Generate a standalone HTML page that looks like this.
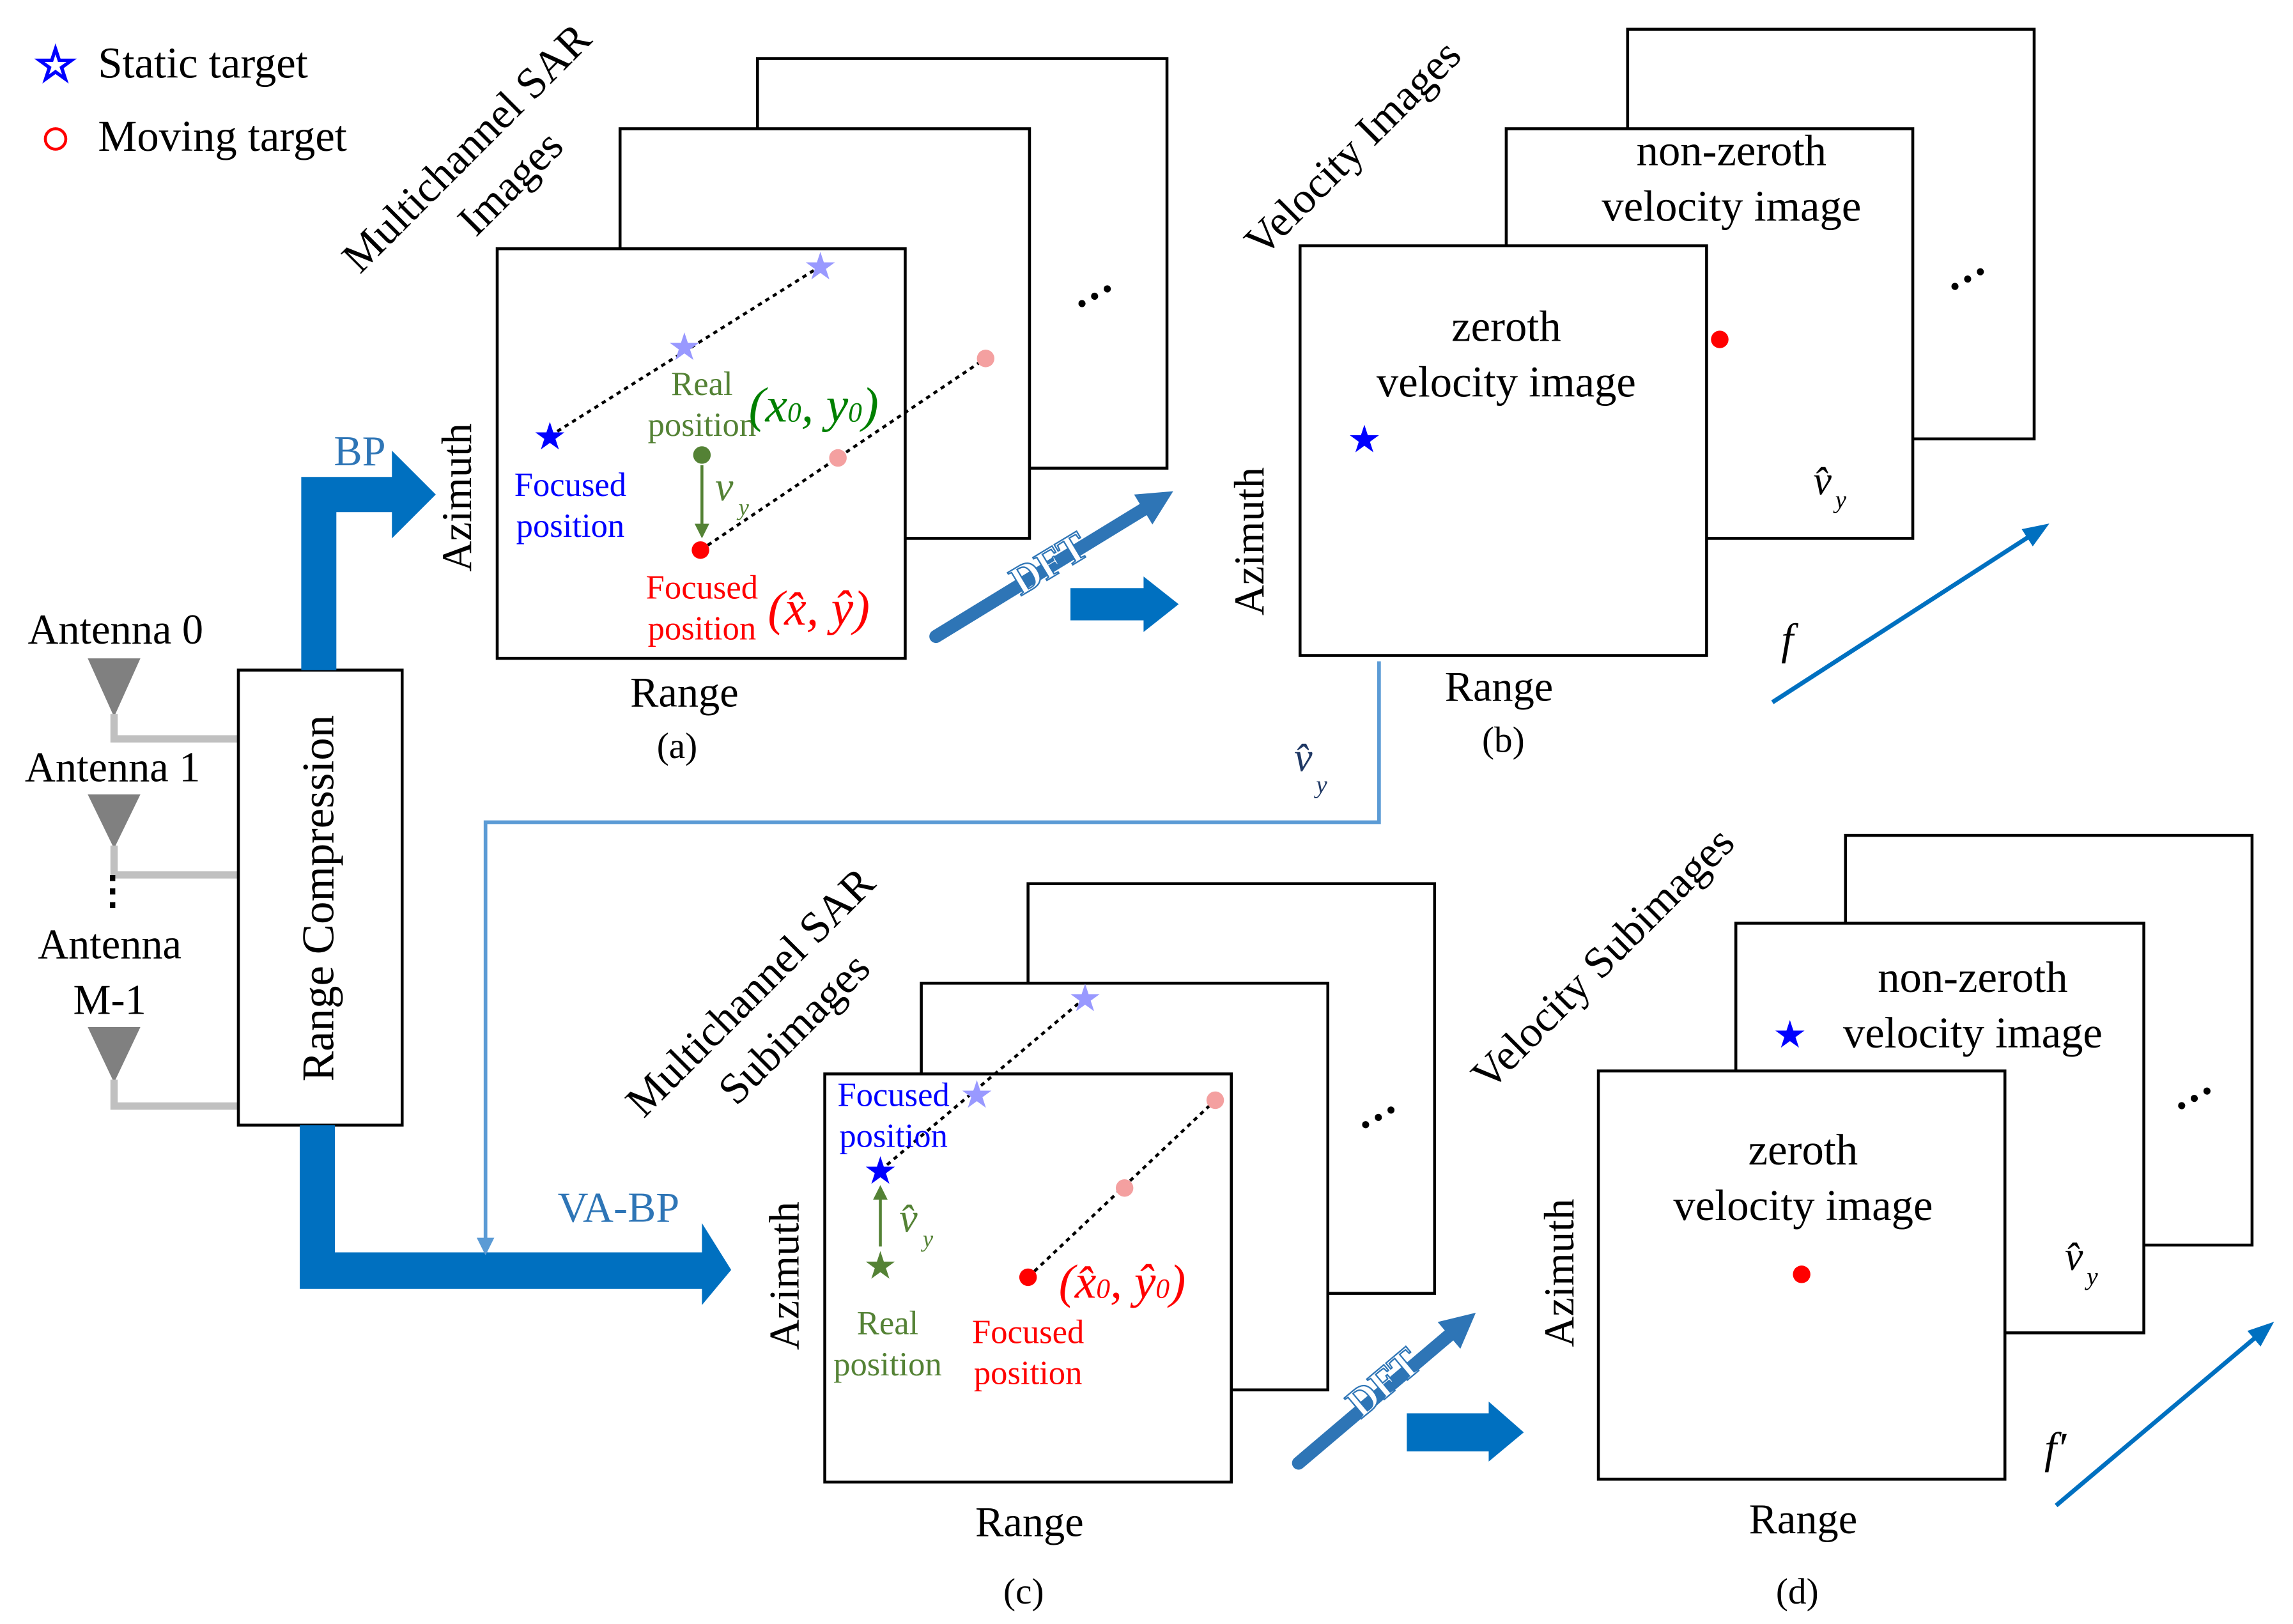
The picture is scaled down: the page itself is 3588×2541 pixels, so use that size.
<!DOCTYPE html>
<html><head><style>html,body{margin:0;padding:0;background:#fff}svg{display:block}</style></head><body>
<svg width="3588" height="2541" viewBox="0 0 1568 1110" preserveAspectRatio="none" xmlns="http://www.w3.org/2000/svg" font-family="Liberation Serif, serif">
<defs>
<marker id="ahl" markerWidth="12" markerHeight="12" refX="10" refY="6" orient="auto" markerUnits="userSpaceOnUse"><path d="M0,0 L12,6 L0,12 z" fill="#5b9bd5"/></marker>
<marker id="ahg" markerWidth="10" markerHeight="10" refX="8" refY="5" orient="auto" markerUnits="userSpaceOnUse"><path d="M0,0 L10,5 L0,10 z" fill="#548235"/></marker>
<marker id="ahd" markerWidth="24" markerHeight="24" refX="12" refY="12" orient="auto" markerUnits="userSpaceOnUse"><path d="M0,0 L24,12 L0,24 z" fill="#2e75b6"/></marker>
<marker id="ahf" markerWidth="18" markerHeight="18" refX="14" refY="9" orient="auto" markerUnits="userSpaceOnUse"><path d="M0,2 L18,9 L0,16 z" fill="#0070c0"/></marker>
</defs>
<!-- legend -->
<text x="38" y="55" font-size="32" fill="none" stroke="#0000ff" stroke-width="1.5" text-anchor="middle">☆</text>
<text x="67" y="53" font-size="30">Static target</text>
<circle cx="38" cy="95" r="7" fill="none" stroke="#ff0000" stroke-width="2"/>
<text x="67" y="103" font-size="30">Moving target</text>

<!-- antennas -->
<g fill="#808080">
<path d="M60,450 L96,450 L78,490 z"/><path d="M60,543 L96,543 L78,580 z"/><path d="M60,702 L96,702 L78,740 z"/>
</g>
<g stroke="#c0c0c0" stroke-width="5" fill="none">
<path d="M78,488 V505 H163"/><path d="M78,578 V598 H163"/><path d="M78,738 V756 H163"/>
</g>
<text x="79" y="440" font-size="29" text-anchor="middle">Antenna 0</text>
<text x="77" y="534" font-size="29" text-anchor="middle">Antenna 1</text>
<text x="77" y="618" font-size="27" text-anchor="middle" font-weight="bold">⋮</text>
<text x="75" y="655" font-size="29" text-anchor="middle">Antenna</text>
<text x="75" y="693" font-size="29" text-anchor="middle">M-1</text>

<rect x="163" y="458" width="112" height="311" fill="#fff" stroke="#000" stroke-width="2"/>
<text transform="translate(228,614) rotate(-90)" font-size="31" text-anchor="middle">Range Compression</text>

<!-- BP arrow -->
<path d="M206,458 V326 H268 V308 L298,338 L268,368 V350 H230 V458 z" fill="#0070c0"/>
<text x="246" y="318" font-size="29" fill="#2e75b6" text-anchor="middle">BP</text>
<!-- VA-BP arrow -->
<path d="M205,769 H229 V856 H480 V836 L500,868 L480,892 V881 H205 z" fill="#0070c0"/>
<text x="423" y="835" font-size="29" fill="#2e75b6" text-anchor="middle">VA-BP</text>
<!-- light blue line -->
<path d="M943,452 V562 H332 V856" fill="none" stroke="#5b9bd5" stroke-width="2.5" marker-end="url(#ahl)"/>
<text x="885" y="527" font-size="28" fill="#1f3864" font-style="italic">v̂</text><text x="900" y="542" font-size="17" fill="#1f3864" font-style="italic">y</text>

<!-- panel a -->
<g fill="#fff" stroke="#000" stroke-width="2">
<rect x="518" y="40" width="280" height="280"/><rect x="424" y="88" width="280" height="280"/><rect x="340" y="170" width="279" height="280"/>
</g>
<text x="750" y="212" font-size="30" font-weight="bold" transform="rotate(-30 750 205)" text-anchor="middle">···</text>
<text transform="translate(326,108) rotate(-45)" font-size="30" text-anchor="middle">Multichannel SAR</text>
<text transform="translate(356,132) rotate(-45)" font-size="30" text-anchor="middle">Images</text>
<text transform="translate(322,340) rotate(-90)" font-size="29" text-anchor="middle">Azimuth</text>
<text x="468" y="483" font-size="29" text-anchor="middle">Range</text>
<text x="463" y="518" font-size="25" text-anchor="middle">(a)</text>
<line x1="376" y1="298" x2="561" y2="182" stroke="#000" stroke-width="2" stroke-dasharray="3,3"/>
<line x1="479" y1="376" x2="674" y2="245" stroke="#000" stroke-width="2" stroke-dasharray="3,3"/>
<text x="376" y="307" font-size="26" fill="#0000ff" text-anchor="middle">★</text>
<text x="468" y="246" font-size="26" fill="#9999ff" text-anchor="middle">★</text>
<text x="561" y="191" font-size="26" fill="#9999ff" text-anchor="middle">★</text>
<circle cx="479" cy="376" r="6" fill="#ff0000"/><circle cx="573" cy="313" r="6" fill="#f4a0a0"/><circle cx="674" cy="245" r="6" fill="#f4a0a0"/>
<circle cx="480" cy="311" r="6" fill="#548235"/>
<line x1="480" y1="318" x2="480" y2="366" stroke="#548235" stroke-width="2" marker-end="url(#ahg)"/>
<text x="489" y="342" font-size="28" fill="#548235" font-style="italic">v</text><text x="505" y="352" font-size="16" fill="#548235" font-style="italic">y</text>
<text x="480" y="270" font-size="23" fill="#548235" text-anchor="middle">Real</text>
<text x="480" y="298" font-size="23" fill="#548235" text-anchor="middle">position</text>
<text x="512" y="288" font-size="34" fill="#008000" font-style="italic">(x<tspan font-size="19">0</tspan>, y<tspan font-size="19">0</tspan>)</text>
<text x="390" y="339" font-size="23" fill="#0000ff" text-anchor="middle">Focused</text>
<text x="390" y="367" font-size="23" fill="#0000ff" text-anchor="middle">position</text>
<text x="480" y="409" font-size="23" fill="#ff0000" text-anchor="middle">Focused</text>
<text x="480" y="437" font-size="23" fill="#ff0000" text-anchor="middle">position</text>
<text x="525" y="427" font-size="34" fill="#ff0000" font-style="italic">(x̂, ŷ)</text>

<!-- DFT a->b -->
<line x1="640" y1="435" x2="792" y2="342" stroke="#2e75b6" stroke-width="9" stroke-linecap="round" marker-end="url(#ahd)"/>
<text transform="translate(722,393) rotate(-31)" font-size="28" fill="#fff" stroke="#2e75b6" stroke-width="1" text-anchor="middle" font-weight="bold">DFT</text>
<path d="M732,402 H782 V394 L806,413 L782,432 V424 H732 z" fill="#0070c0"/>

<!-- panel b -->
<g fill="#fff" stroke="#000" stroke-width="2">
<rect x="1113" y="20" width="278" height="280"/><rect x="1030" y="88" width="278" height="280"/><rect x="889" y="168" width="278" height="280"/>
</g>
<text x="1348" y="200" font-size="30" font-weight="bold" transform="rotate(-30 1348 195)" text-anchor="middle">···</text>
<text transform="translate(932,108) rotate(-45)" font-size="30" text-anchor="middle">Velocity Images</text>
<text x="1184" y="113" font-size="30" text-anchor="middle">non-zeroth</text>
<text x="1184" y="151" font-size="30" text-anchor="middle">velocity image</text>
<text x="1030" y="233" font-size="30" text-anchor="middle">zeroth</text>
<text x="1030" y="271" font-size="30" text-anchor="middle">velocity image</text>
<text x="933" y="309" font-size="26" fill="#0000ff" text-anchor="middle">★</text>
<circle cx="1176" cy="232" r="6" fill="#ff0000"/>
<text x="1240" y="338" font-size="28" font-style="italic">v̂</text><text x="1255" y="347" font-size="17" font-style="italic">y</text>
<text transform="translate(864,370) rotate(-90)" font-size="29" text-anchor="middle">Azimuth</text>
<text x="1025" y="479" font-size="29" text-anchor="middle">Range</text>
<text x="1028" y="514" font-size="25" text-anchor="middle">(b)</text>
<line x1="1212" y1="480" x2="1398" y2="360" stroke="#0070c0" stroke-width="3" marker-end="url(#ahf)"/>
<text x="1218" y="447" font-size="30" font-style="italic">f</text>

<!-- panel c -->
<g fill="#fff" stroke="#000" stroke-width="2">
<rect x="703" y="604" width="278" height="280"/><rect x="630" y="672" width="278" height="278"/><rect x="564" y="734" width="278" height="279"/>
</g>
<text x="945" y="773" font-size="30" font-weight="bold" transform="rotate(-30 945 768)" text-anchor="middle">···</text>
<text transform="translate(520,685) rotate(-45)" font-size="30" text-anchor="middle">Multichannel SAR</text>
<text transform="translate(550,710) rotate(-45)" font-size="30" text-anchor="middle">Subimages</text>
<text transform="translate(546,872) rotate(-90)" font-size="29" text-anchor="middle">Azimuth</text>
<text x="704" y="1050" font-size="29" text-anchor="middle">Range</text>
<text x="700" y="1096" font-size="25" text-anchor="middle">(c)</text>
<line x1="602" y1="800" x2="742" y2="682" stroke="#000" stroke-width="2" stroke-dasharray="3,3"/>
<line x1="703" y1="873" x2="831" y2="752" stroke="#000" stroke-width="2" stroke-dasharray="3,3"/>
<text x="602" y="809" font-size="26" fill="#0000ff" text-anchor="middle">★</text>
<text x="668" y="757" font-size="26" fill="#9999ff" text-anchor="middle">★</text>
<text x="742" y="691" font-size="26" fill="#9999ff" text-anchor="middle">★</text>
<text x="602" y="874" font-size="26" fill="#548235" text-anchor="middle">★</text>
<line x1="602" y1="852" x2="602" y2="812" stroke="#548235" stroke-width="2" marker-end="url(#ahg)"/>
<text x="615" y="842" font-size="28" fill="#548235" font-style="italic">v̂</text><text x="631" y="852" font-size="16" fill="#548235" font-style="italic">y</text>
<circle cx="703" cy="873" r="6" fill="#ff0000"/><circle cx="769" cy="812" r="6" fill="#f4a0a0"/><circle cx="831" cy="752" r="6" fill="#f4a0a0"/>
<text x="611" y="756" font-size="23" fill="#0000ff" text-anchor="middle">Focused</text>
<text x="611" y="784" font-size="23" fill="#0000ff" text-anchor="middle">position</text>
<text x="607" y="912" font-size="23" fill="#548235" text-anchor="middle">Real</text>
<text x="607" y="940" font-size="23" fill="#548235" text-anchor="middle">position</text>
<text x="703" y="918" font-size="23" fill="#ff0000" text-anchor="middle">Focused</text>
<text x="703" y="946" font-size="23" fill="#ff0000" text-anchor="middle">position</text>
<text x="724" y="887" font-size="33" fill="#ff0000" font-style="italic">(x̂<tspan font-size="19">0</tspan>, ŷ<tspan font-size="19">0</tspan>)</text>

<!-- DFT c->d -->
<line x1="888" y1="1000" x2="1000" y2="905" stroke="#2e75b6" stroke-width="9" stroke-linecap="round" marker-end="url(#ahd)"/>
<text transform="translate(952,952) rotate(-40)" font-size="28" fill="#fff" stroke="#2e75b6" stroke-width="1" text-anchor="middle" font-weight="bold">DFT</text>
<path d="M962,966 H1018 V958 L1042,979 L1018,999 V992 H962 z" fill="#0070c0"/>

<!-- panel d -->
<g fill="#fff" stroke="#000" stroke-width="2">
<rect x="1262" y="571" width="278" height="280"/><rect x="1187" y="631" width="279" height="280"/><rect x="1093" y="732" width="278" height="279"/>
</g>
<text x="1503" y="760" font-size="30" font-weight="bold" transform="rotate(-30 1503 755)" text-anchor="middle">···</text>
<text transform="translate(1103,662) rotate(-45)" font-size="30" text-anchor="middle">Velocity Subimages</text>
<text x="1349" y="678" font-size="30" text-anchor="middle">non-zeroth</text>
<text x="1349" y="716" font-size="30" text-anchor="middle">velocity image</text>
<text x="1224" y="716" font-size="26" fill="#0000ff" text-anchor="middle">★</text>
<text x="1233" y="796" font-size="30" text-anchor="middle">zeroth</text>
<text x="1233" y="834" font-size="30" text-anchor="middle">velocity image</text>
<circle cx="1232" cy="871" r="6" fill="#ff0000"/>
<text x="1412" y="868" font-size="28" font-style="italic">v̂</text><text x="1427" y="878" font-size="17" font-style="italic">y</text>
<text transform="translate(1076,870) rotate(-90)" font-size="29" text-anchor="middle">Azimuth</text>
<text x="1233" y="1048" font-size="29" text-anchor="middle">Range</text>
<text x="1229" y="1096" font-size="25" text-anchor="middle">(d)</text>
<line x1="1406" y1="1029" x2="1552" y2="906" stroke="#0070c0" stroke-width="3" marker-end="url(#ahf)"/>
<text x="1398" y="1000" font-size="30" font-style="italic">f′</text>
</svg>
</body></html>
